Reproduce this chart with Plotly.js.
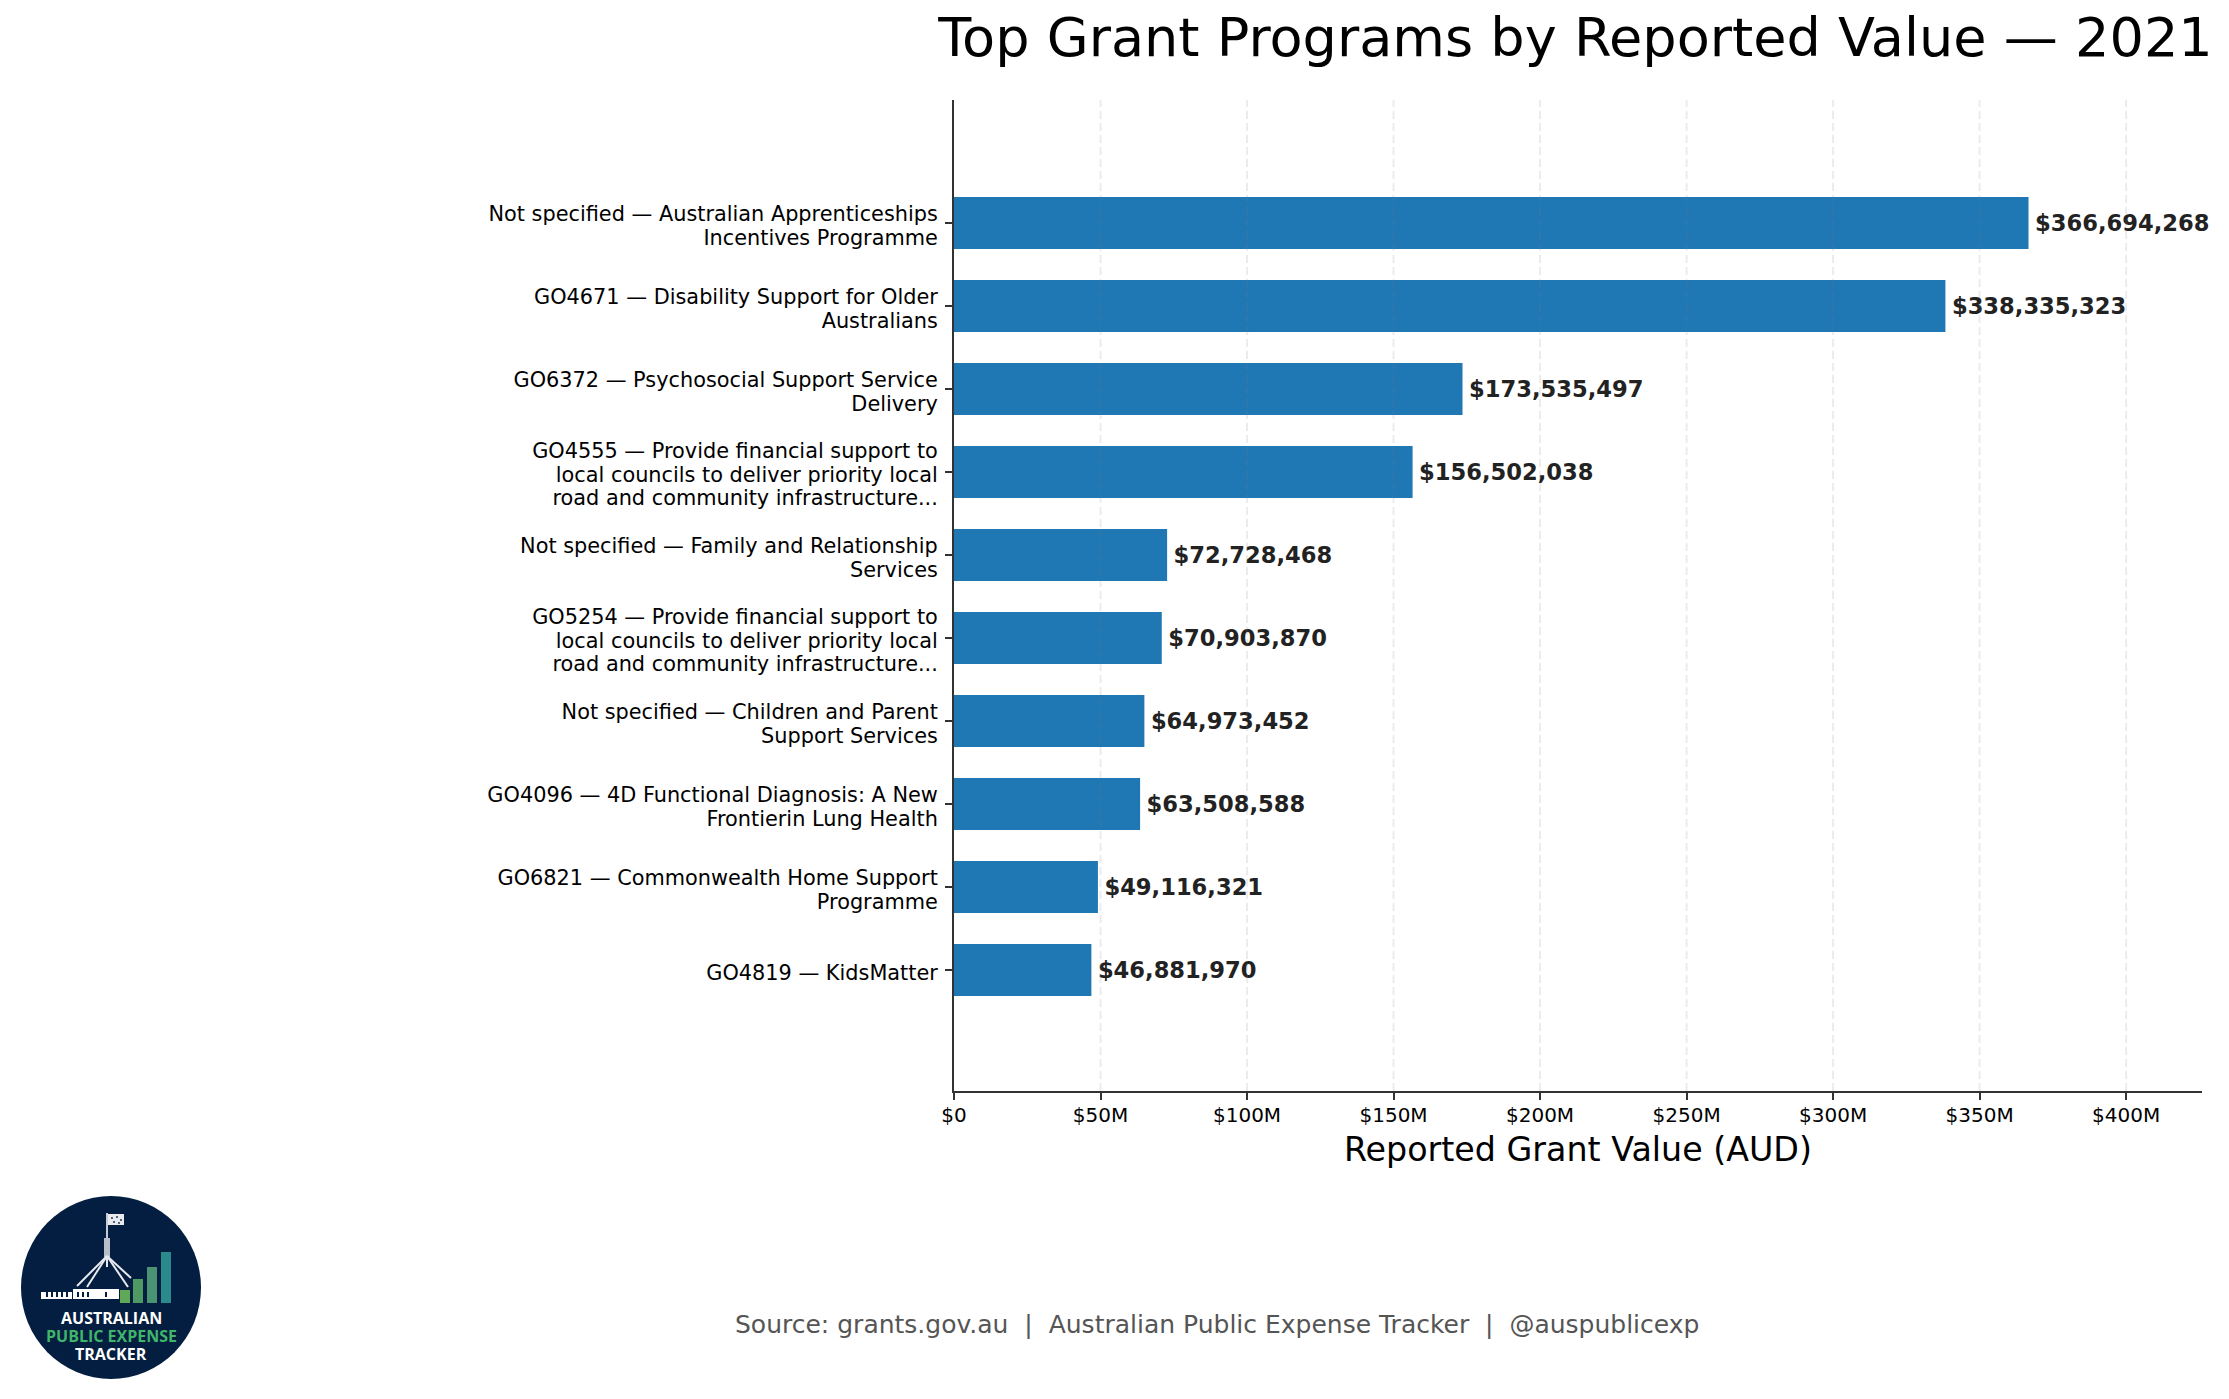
<!DOCTYPE html>
<html>
<head>
<meta charset="utf-8">
<script src="https://cdn.plot.ly/plotly-3.0.1.min.js"></script>
<style>
html, body { margin: 0; padding: 0; background: white; }
</style>
</head>
<body>
<div id="chart" style="width:2229px;height:1399px"></div>
<script>
var programs = [
    'Not specified — Australian Apprenticeships<br>Incentives Programme',
    'GO4671 — Disability Support for Older<br>Australians',
    'GO6372 — Psychosocial Support Service<br>Delivery',
    'GO4555 — Provide financial support to<br>local councils to deliver priority local<br>road and community infrastructure...',
    'Not specified — Family and Relationship<br>Services',
    'GO5254 — Provide financial support to<br>local councils to deliver priority local<br>road and community infrastructure...',
    'Not specified — Children and Parent<br>Support Services',
    'GO4096 — 4D Functional Diagnosis: A New<br>Frontierin Lung Health',
    'GO6821 — Commonwealth Home Support<br>Programme',
    'GO4819 — KidsMatter'
];
var values = [366694268, 338335323, 173535497, 156502038, 72728468, 70903870, 64973452, 63508588, 49116321, 46881970];
var tickVals = [0, 50e6, 100e6, 150e6, 200e6, 250e6, 300e6, 350e6, 400e6];
var tickText = ['$0', '$50M', '$100M', '$150M', '$200M', '$250M', '$300M', '$350M', '$400M'];

var font = '"DejaVu Sans", sans-serif';
var axisColor = '#333333';
var yFontSize = 20.83;

// plot area in page pixels
var L = 954, R = 2202, T = 100, B = 1091;
function px(x) { return (x - L) / (R - L); }
function py(y) { return 1 - (y - T) / (B - T); }

function rect(x0, y0, x1, y1, color) {
    return { type: 'rect', xref: 'paper', yref: 'paper', x0: px(x0), x1: px(x1), y0: py(y0), y1: py(y1),
        fillcolor: color, line: { width: 0 } };
}
function seg(x0, y0, x1, y1, color, w) {
    return { type: 'line', xref: 'paper', yref: 'paper', x0: px(x0), x1: px(x1), y0: py(y0), y1: py(y1),
        line: { color: color, width: w } };
}

// dashed grid sits on top of the bars
var shapes = tickVals.slice(1).map(function (v) {
    return { type: 'line', xref: 'x', yref: 'paper', x0: v, x1: v, y0: 0, y1: 1, layer: 'above',
        line: { color: 'rgba(128,128,128,0.15)', width: 2, dash: '8px,4px' } };
});

// logo
var navy = '#031E40';
shapes.push({ type: 'circle', xref: 'paper', yref: 'paper', x0: px(21), x1: px(201), y0: py(1196), y1: py(1379),
    fillcolor: navy, line: { width: 0 } });
shapes.push(rect(120, 1290, 130, 1303, '#5FA858'));
shapes.push(rect(133, 1279, 143, 1303, '#4F9A62'));
shapes.push(rect(147, 1267, 157, 1303, '#4A9473'));
shapes.push(rect(161, 1252, 171, 1303, '#2A8A8C'));
shapes.push(seg(107, 1213, 107, 1238, '#C8CCD2', 2));
shapes.push(rect(108, 1214, 124, 1225, '#E8EAEE'));
[[111, 1217], [116, 1216], [120, 1219], [113, 1221], [118, 1222]].forEach(function (d) {
    shapes.push(rect(d[0], d[1], d[0] + 2, d[1] + 2, '#55657F'));
});
shapes.push(rect(104, 1238, 110, 1257, '#B9BFC8'));
shapes.push(seg(107, 1257, 107, 1267, '#E8EAEE', 2));
shapes.push(seg(107, 1256, 77, 1286, '#E8EAEE', 2));
shapes.push(seg(107, 1256, 87, 1287, '#E8EAEE', 2));
shapes.push(seg(107, 1256, 131, 1278, '#E8EAEE', 2));
shapes.push(seg(107, 1256, 128, 1287, '#E8EAEE', 2));
shapes.push(rect(41, 1292, 72, 1299, '#FFFFFF'));
shapes.push(rect(73, 1289, 119, 1299, '#FFFFFF'));
[46, 51, 56, 61, 66, 77, 82, 87, 105].forEach(function (x) {
    shapes.push(rect(x, 1292, x + 2, 1297, navy));
});

function logoText(text, y, color) {
    return { text: text, xref: 'paper', yref: 'paper', x: px(111), y: py(y), showarrow: false,
        xanchor: 'center', yanchor: 'middle',
        font: { family: '"Open Sans", sans-serif', size: 16, color: color, weight: 700 } };
}

var trace = {
    type: 'bar',
    orientation: 'h',
    y: programs,
    x: values,
    width: 0.627,
    marker: { color: '#1F77B4' },
    texttemplate: '$%{x:,.0f}',
    textposition: 'outside',
    cliponaxis: false,
    constraintext: 'none',
    textfont: { family: font, size: 22.6, color: '#222222', weight: 700 },
    hoverinfo: 'skip'
};

var layout = {
    width: 2229,
    height: 1399,
    showlegend: false,
    paper_bgcolor: 'white',
    plot_bgcolor: 'white',
    margin: { l: L, r: 2229 - R, t: T, b: 1399 - B, pad: 0 },
    font: { family: font, color: '#000000' },
    title: {
        text: 'Top Grant Programs by Reported Value — 2021',
        font: { family: font, size: 54.1, color: '#000000' },
        x: 0.498,
        xref: 'paper',
        xanchor: 'center',
        y: 0.9735,
        yanchor: 'middle'
    },
    xaxis: {
        range: [0, 425.9e6],
        tickvals: tickVals,
        ticktext: tickText,
        tickfont: { family: font, size: 20, color: '#000000' },
        ticklabelstandoff: -2,
        showgrid: false,
        zeroline: false,
        showline: true,
        linecolor: axisColor,
        linewidth: 2,
        ticks: 'outside',
        ticklen: 7,
        tickwidth: 2,
        tickcolor: axisColor,
        title: { text: 'Reported Grant Value (AUD)', font: { family: font, size: 33.3, color: '#000000' }, standoff: 12 }
    },
    yaxis: {
        type: 'category',
        range: [10.458, -1.482],
        tickfont: { family: font, size: yFontSize, color: '#000000' },
        ticklabelstandoff: 3,
        showgrid: false,
        zeroline: false,
        showline: true,
        linecolor: axisColor,
        linewidth: 2,
        ticks: 'outside',
        ticklen: 7,
        tickwidth: 2,
        tickcolor: axisColor
    },
    shapes: shapes,
    annotations: [
        {
            text: 'Source: grants.gov.au  |  Australian Public Expense Tracker  |  @auspublicexp',
            xref: 'paper', yref: 'paper', x: px(1217), y: py(1324),
            showarrow: false, xanchor: 'center', yanchor: 'middle',
            font: { family: font, size: 25, color: '#555555' }
        },
        logoText('AUSTRALIAN', 1318, '#FFFFFF'),
        logoText('PUBLIC EXPENSE', 1336, '#3FB56A'),
        logoText('TRACKER', 1354, '#FFFFFF')
    ]
};

Plotly.newPlot('chart', [trace], layout, { displayModeBar: false }).then(function (gd) {
    // plotly has a fixed 1.3em line height on tick labels, tighten it and nudge down a bit
    var lineEm = 1.13;
    gd.querySelectorAll('.ytick text').forEach(function (t) {
        var lines = t.querySelectorAll('tspan.line');
        if (lines.length < 2) {
            t.setAttribute('y', parseFloat(t.getAttribute('y')) + 2.5);
            return;
        }
        // keep the block centred on its tick
        var shift = (lines.length - 1) * (1.3 - lineEm) / 2 * yFontSize;
        lines.forEach(function (l, i) {
            l.setAttribute('dy', (i * lineEm) + 'em');
            l.setAttribute('y', parseFloat(l.getAttribute('y')) + shift + 2.5);
        });
    });
    // bit more gap between bar end and value label
    gd.querySelectorAll('.bartext').forEach(function (t) {
        t.setAttribute('transform', 'translate(3.5,0) ' + (t.getAttribute('transform') || ''));
    });
});
</script>
</body>
</html>
